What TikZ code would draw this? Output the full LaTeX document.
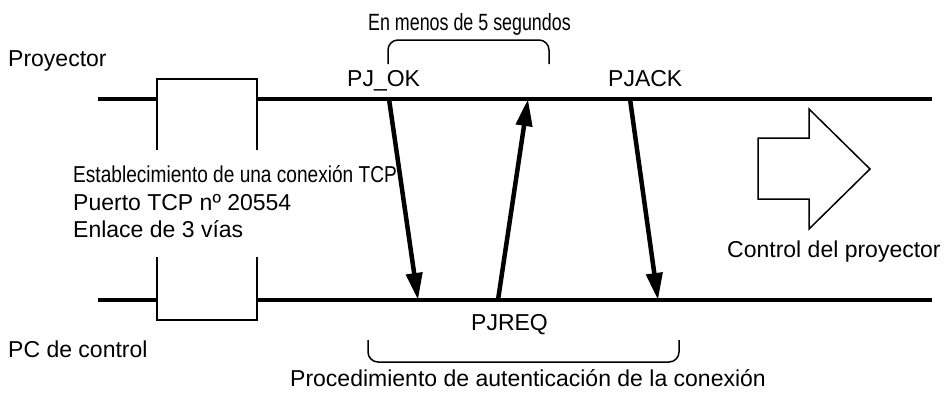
\documentclass[tikz,border=0pt]{standalone}
\usepackage{fontspec}
\setmainfont{Liberation Sans}
\newfontfamily\narrowfont[FakeStretch=0.83]{Liberation Sans}
\newfontfamily\narrowerfont[FakeStretch=0.76]{Liberation Sans}
\usepackage{tikz}
\usetikzlibrary{arrows.meta}

\begin{document}
\begin{tikzpicture}[
x=1pt, y=-1pt,
lbl/.style={inner sep=0pt, anchor=base west, font=\fontsize{23}{27.6}\selectfont},
timeline/.style={line width=3.5pt},
frame/.style={line width=1.5pt},
msg/.style={line width=4.5pt, -{Triangle[length=27pt,width=16pt]}},
brace/.style={line width=1.5pt, rounded corners=10pt}
]
\useasboundingbox (0,0) rectangle (949,392);

\coordinate (p0) at (98,99);
\coordinate (p1) at (932,99);
\coordinate (c0) at (98,300);
\coordinate (c1) at (932,300);

\draw[timeline] (p0) -- (157,99);
\draw[timeline] (257,99) -- (p1);
\draw[timeline] (c0) -- (157,300);
\draw[timeline] (257,300) -- (c1);
\draw[frame] (157,150) -- (157,79) -- (257,79) -- (257,150);
\draw[frame] (157,257) -- (157,320) -- (257,320) -- (257,257);

\coordinate (okS) at (389,99);
\coordinate (okE) at (418,300);
\coordinate (reqS) at (498,300);
\coordinate (reqE) at (528,99);
\coordinate (ackS) at (630,99);
\coordinate (ackE) at (658,300);
\draw[msg] (okS) -- (okE);
\draw[msg] (reqS) -- (reqE);
\draw[msg] (ackS) -- (ackE);

\draw[brace] (388,64) -- (388,40) -- (549,40) -- (549,64);
\draw[brace] (368,340) -- (368,362) -- (679,362) -- (679,340);

\draw[frame] (758,138) -- (809,138) -- (809,109) -- (870,169) -- (809,229) -- (809,199) -- (758,199) -- cycle;

\node[lbl] (proy) at (8,66) {Proyector};
\node[lbl] (pc) at (8,357) {PC de control};
\node[lbl] (ok) at (347,86) {PJ\_OK};
\node[lbl] (ack) at (608,86) {PJACK};
\node[lbl] (req) at (471,330) {PJREQ};
\node[lbl, font={\fontsize{23.5}{28}\narrowerfont}] (five) at (368,30) {En menos de 5 segundos};
\node[lbl, font={\fontsize{23}{27.6}\narrowfont}] (tcp) at (73,182) {Establecimiento de una conexión TCP};
\node[lbl] (port) at (73,210) {Puerto TCP nº 20554};
\node[lbl] (hand) at (73,237) {Enlace de 3 vías};
\node[lbl] (ctrl) at (727,257) {Control del proyector};
\node[lbl] (auth) at (290,386) {Procedimiento de autenticación de la conexión};
\end{tikzpicture}
\end{document}
